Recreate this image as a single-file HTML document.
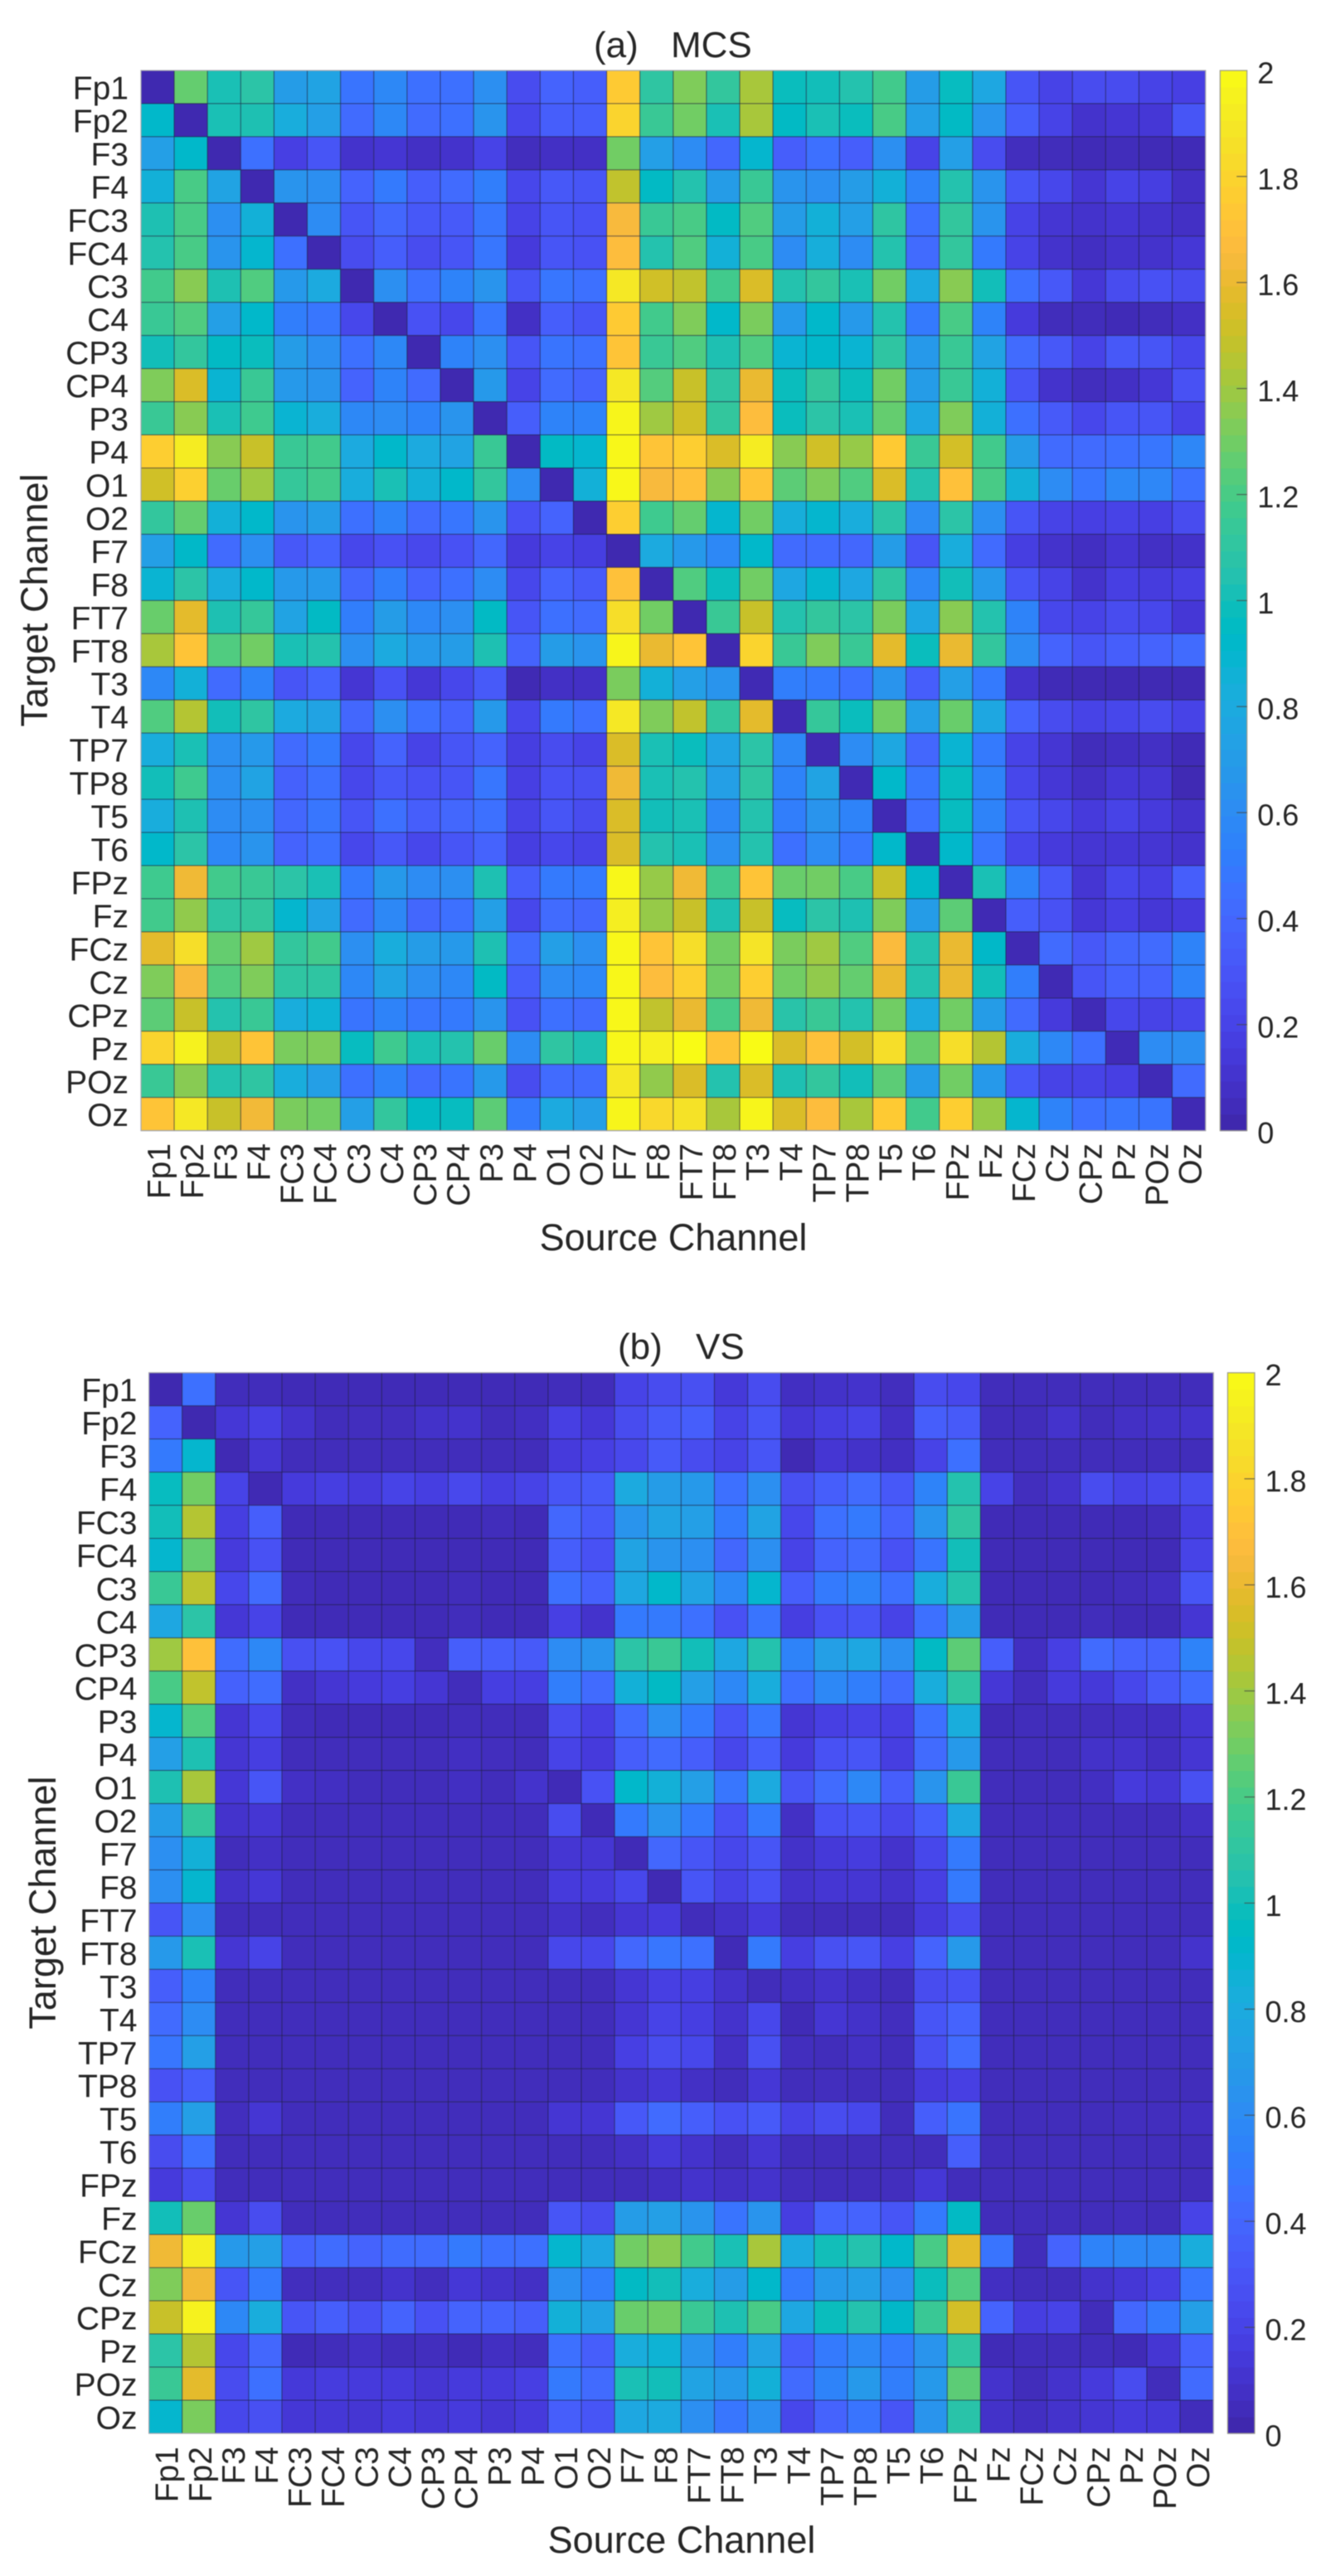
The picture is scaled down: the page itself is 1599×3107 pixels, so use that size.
<!DOCTYPE html>
<html lang="en">
<head>
<meta charset="utf-8">
<title>Connectivity matrices: MCS and VS</title>
<style>
  html,body{margin:0;padding:0;background:#fff;}
  svg{display:block;filter:blur(0.6px);}
  text{font-family:"Liberation Sans",Arial,sans-serif;fill:#262626;}
</style>
</head>
<body>
<svg id="figure" xmlns="http://www.w3.org/2000/svg" width="1599" height="3107" viewBox="0 0 1599 3107">
  <rect x="0" y="0" width="1599" height="3107" fill="#ffffff"/>
  <g id="panel-a">
    <text x="716" y="69" font-size="44">(a)</text>
    <text x="809" y="69" font-size="44">MCS</text>
    <text x="812" y="1508" font-size="45" text-anchor="middle">Source Channel</text>
    <text transform="translate(57 724) rotate(-90)" font-size="45" text-anchor="middle">Target Channel</text>
  </g>
  <g id="panel-b">
    <text x="745" y="1639" font-size="44">(b)</text>
    <text x="839" y="1639" font-size="44">VS</text>
    <text x="822" y="3079" font-size="45" text-anchor="middle">Source Channel</text>
    <text transform="translate(67 2295) rotate(-90)" font-size="45" text-anchor="middle">Target Channel</text>
  </g>
</svg>
<script>
const channels = ["Fp1","Fp2","F3","F4","FC3","FC4","C3","C4","CP3","CP4","P3","P4","O1","O2","F7","F8","FT7","FT8","T3","T4","TP7","TP8","T5","T6","FPz","Fz","FCz","Cz","CPz","Pz","POz","Oz"];
const colorbarTicks = [0,0.2,0.4,0.6,0.8,1,1.2,1.4,1.6,1.8,2];
const colorbarTickLabels = ["0","0.2","0.4","0.6","0.8","1","1.2","1.4","1.6","1.8","2"];

const mcsValues = [
[.02,1.27,1.02,1.08,.7,.75,.47,.58,.45,.45,.62,.25,.38,.35,1.75,1.1,1.33,1.12,1.42,.98,1.0,1.05,1.18,.7,.97,.78,.3,.2,.25,.25,.2,.18],
[.92,.02,1.02,1.03,.82,.72,.42,.58,.42,.45,.65,.22,.35,.35,1.8,1.15,1.3,1.02,1.42,.95,1.02,.98,1.2,.72,.95,.65,.35,.2,.1,.12,.13,.3],
[.72,.92,.02,.45,.18,.3,.1,.12,.08,.1,.2,.06,.08,.08,1.3,.72,.6,.4,.9,.35,.45,.35,.62,.2,.72,.25,.06,.05,.04,.05,.04,.04],
[.85,1.2,.75,.02,.65,.62,.38,.5,.35,.42,.52,.22,.32,.3,1.48,.95,1.05,.7,1.15,.65,.62,.7,.85,.55,1.05,.65,.3,.22,.12,.2,.17,.08],
[1.03,1.2,.62,.85,.02,.6,.3,.4,.32,.33,.48,.2,.3,.28,1.65,1.15,1.2,.95,1.22,.7,.85,.72,1.1,.45,1.12,.65,.2,.12,.1,.12,.1,.08],
[1.05,1.2,.65,.9,.45,.02,.25,.35,.25,.3,.48,.15,.3,.28,1.68,1.05,1.22,.85,1.2,.6,.83,.6,1.05,.42,1.12,.5,.2,.1,.07,.1,.1,.13],
[1.18,1.35,1.03,1.22,.68,.8,.02,.62,.45,.55,.65,.3,.48,.45,1.9,1.52,1.48,1.18,1.55,1.05,1.12,1.02,1.3,.8,1.35,1.0,.45,.32,.13,.25,.28,.25],
[1.15,1.22,.72,.92,.52,.48,.22,.02,.28,.22,.48,.08,.35,.3,1.75,1.18,1.33,.92,1.32,.68,.92,.68,1.05,.5,1.2,.55,.15,.05,.05,.04,.05,.08],
[1.0,1.12,.95,.98,.7,.62,.45,.58,.02,.55,.62,.3,.47,.45,1.72,1.15,1.22,1.03,1.22,.88,.92,.88,1.1,.68,1.15,.75,.42,.32,.2,.32,.3,.22],
[1.33,1.55,.88,1.15,.68,.65,.38,.55,.42,.02,.68,.2,.42,.38,1.9,1.23,1.5,1.1,1.6,.98,1.12,.98,1.3,.7,1.15,.85,.3,.1,.06,.08,.13,.28],
[1.15,1.35,1.02,1.17,.88,.82,.58,.6,.55,.65,.02,.35,.55,.55,1.97,1.4,1.52,1.12,1.68,.98,1.08,1.02,1.27,.78,1.33,.85,.45,.33,.22,.3,.3,.2],
[1.77,1.92,1.35,1.5,1.15,1.18,.8,.92,.8,.75,1.15,.02,.95,.9,1.98,1.72,1.77,1.55,1.92,1.35,1.52,1.38,1.75,1.15,1.53,1.18,.7,.42,.42,.45,.48,.57],
[1.52,1.78,1.28,1.4,1.13,1.18,.82,1.02,.85,.92,1.12,.6,.02,.85,1.98,1.65,1.7,1.35,1.72,1.25,1.33,1.22,1.55,1.05,1.7,1.2,.85,.6,.48,.58,.57,.45],
[1.12,1.27,.85,.92,.65,.7,.45,.55,.42,.48,.65,.28,.38,.02,1.77,1.17,1.27,.9,1.3,.83,.9,.82,1.08,.6,1.08,.62,.3,.2,.18,.2,.18,.25],
[.72,.93,.42,.62,.32,.38,.22,.28,.23,.28,.4,.15,.2,.17,.02,.8,.68,.58,.92,.42,.42,.4,.7,.3,.82,.42,.17,.1,.07,.12,.08,.09],
[.88,1.08,.82,.92,.68,.68,.4,.52,.38,.45,.6,.22,.38,.33,1.7,.02,1.22,.98,1.3,.78,.9,.78,1.1,.58,1.0,.68,.3,.2,.1,.18,.16,.18],
[1.28,1.58,1.03,1.13,.75,.95,.52,.7,.58,.62,.95,.3,.45,.42,1.85,1.3,.02,1.15,1.5,1.05,1.12,1.08,1.32,.78,1.35,1.05,.55,.22,.2,.25,.22,.13],
[1.42,1.72,1.22,1.3,1.02,1.05,.62,.8,.68,.7,1.03,.38,.7,.65,1.97,1.6,1.72,.02,1.8,1.15,1.33,1.15,1.58,.98,1.6,1.12,.6,.38,.3,.35,.38,.42],
[.58,.85,.42,.55,.3,.38,.12,.28,.13,.22,.33,.03,.08,.08,1.32,.85,.72,.65,.03,.52,.5,.45,.65,.35,.72,.5,.1,.04,.03,.03,.03,.03],
[1.22,1.45,1.0,1.1,.8,.75,.4,.62,.45,.38,.68,.22,.5,.45,1.9,1.33,1.48,1.12,1.58,.03,1.13,.98,1.3,.72,1.28,.78,.38,.25,.2,.22,.25,.2],
[.82,1.02,.62,.68,.42,.5,.22,.38,.2,.3,.38,.17,.25,.2,1.55,1.02,.98,.75,1.08,.58,.03,.6,.78,.4,.88,.5,.2,.12,.05,.07,.08,.04],
[1.0,1.17,.62,.75,.37,.45,.22,.32,.28,.3,.48,.18,.28,.27,1.62,1.02,1.05,.72,1.1,.55,.75,.03,.92,.48,.97,.55,.22,.13,.08,.13,.12,.03],
[.82,1.03,.6,.62,.4,.48,.3,.45,.35,.4,.45,.2,.3,.25,1.55,1.0,1.02,.58,1.05,.52,.65,.55,.03,.45,.97,.55,.3,.22,.15,.2,.15,.1],
[.92,1.08,.58,.65,.38,.45,.22,.32,.22,.3,.38,.17,.22,.2,1.55,1.05,1.02,.62,1.05,.45,.6,.48,.92,.03,.92,.48,.22,.15,.12,.13,.12,.1],
[1.17,1.62,1.18,1.15,1.08,1.02,.5,.68,.6,.62,1.03,.35,.5,.5,1.98,1.38,1.62,1.18,1.72,1.28,1.3,1.2,1.5,.93,.03,1.02,.55,.32,.12,.22,.18,.35],
[1.18,1.37,1.1,1.12,.9,.75,.42,.58,.4,.45,.72,.22,.42,.4,1.93,1.38,1.5,1.03,1.5,.97,1.08,1.03,1.33,.7,1.25,.03,.35,.28,.13,.18,.13,.15],
[1.58,1.85,1.27,1.4,1.12,1.18,.62,.82,.7,.68,1.03,.42,.72,.62,1.98,1.72,1.85,1.3,1.88,1.32,1.4,1.22,1.66,1.05,1.6,.93,.03,.42,.32,.4,.42,.55],
[1.33,1.65,1.23,1.33,1.1,1.1,.58,.75,.62,.58,.95,.35,.6,.58,1.98,1.68,1.78,1.3,1.77,1.3,1.37,1.27,1.6,1.05,1.6,1.0,.52,.03,.3,.38,.38,.55],
[1.25,1.5,1.05,1.15,.82,.87,.47,.55,.48,.5,.65,.28,.45,.42,1.98,1.48,1.6,1.2,1.62,1.07,1.15,1.05,1.3,.8,1.3,.7,.42,.15,.04,.22,.2,.22],
[1.8,1.95,1.5,1.72,1.32,1.33,.97,1.17,1.02,1.05,1.28,.6,1.1,1.03,1.98,1.94,2.0,1.72,2.0,1.55,1.7,1.53,1.85,1.28,1.85,1.45,.82,.58,.45,.04,.6,.62],
[1.15,1.35,1.05,1.1,.82,.72,.45,.55,.42,.47,.68,.25,.42,.42,1.9,1.37,1.55,1.05,1.55,1.03,1.12,1.0,1.25,.7,1.3,.68,.32,.2,.2,.18,.04,.42],
[1.72,1.9,1.5,1.63,1.32,1.3,.72,1.12,.95,.97,1.25,.5,.8,.72,1.97,1.82,1.87,1.42,1.97,1.55,1.68,1.42,1.75,1.18,1.77,1.38,.9,.55,.45,.48,.47,.03]
];

const vsValues = [
[.02,.45,.05,.05,.04,.04,.04,.04,.04,.04,.04,.04,.05,.05,.2,.25,.27,.14,.25,.07,.09,.1,.06,.25,.22,.05,.05,.05,.05,.05,.05,.05],
[.38,.02,.13,.18,.1,.05,.06,.06,.09,.1,.05,.07,.18,.13,.25,.33,.35,.2,.3,.13,.17,.2,.08,.35,.33,.05,.05,.1,.05,.08,.09,.1],
[.5,.9,.03,.12,.05,.05,.05,.05,.05,.05,.05,.05,.15,.18,.23,.33,.25,.2,.3,.03,.12,.09,.07,.2,.45,.05,.05,.05,.05,.05,.05,.05],
[.97,1.3,.2,.03,.15,.17,.15,.2,.17,.23,.17,.2,.3,.33,.8,.7,.68,.45,.62,.27,.35,.42,.32,.55,1.05,.2,.06,.1,.25,.2,.22,.25],
[1.0,1.45,.17,.35,.04,.04,.04,.04,.04,.04,.05,.04,.4,.33,.65,.75,.72,.5,.75,.22,.45,.5,.38,.65,1.1,.04,.04,.04,.04,.04,.05,.17],
[.9,1.27,.15,.28,.04,.04,.04,.04,.04,.04,.04,.04,.35,.28,.75,.65,.62,.4,.62,.2,.38,.42,.28,.47,1.0,.04,.04,.04,.04,.04,.04,.2],
[1.15,1.47,.22,.42,.05,.04,.04,.04,.04,.05,.04,.04,.45,.37,.78,.92,.75,.58,.9,.35,.5,.55,.45,.82,1.05,.04,.04,.04,.04,.05,.07,.3],
[.78,1.08,.13,.2,.04,.04,.04,.04,.04,.05,.04,.04,.18,.1,.5,.5,.45,.28,.47,.17,.28,.3,.2,.45,.7,.04,.04,.04,.05,.04,.04,.12],
[1.4,1.7,.43,.58,.27,.28,.22,.22,.06,.35,.35,.33,.6,.65,1.08,1.15,1.0,.78,1.05,.55,.72,.78,.62,.95,1.25,.35,.07,.18,.42,.38,.38,.55],
[1.2,1.48,.37,.43,.08,.12,.15,.17,.12,.05,.17,.17,.52,.42,.85,.95,.72,.58,.82,.45,.58,.52,.42,.82,1.1,.13,.06,.15,.14,.22,.33,.42],
[.9,1.22,.12,.22,.05,.04,.04,.04,.04,.05,.05,.05,.25,.18,.42,.62,.5,.3,.48,.12,.18,.2,.18,.45,.82,.04,.05,.05,.06,.07,.07,.12],
[.72,1.03,.12,.17,.05,.05,.05,.05,.05,.07,.06,.05,.2,.15,.35,.42,.35,.22,.35,.15,.28,.3,.17,.42,.68,.05,.05,.05,.09,.1,.07,.12],
[1.03,1.42,.13,.3,.08,.07,.05,.05,.05,.07,.05,.1,.04,.28,.92,.85,.72,.48,.8,.3,.42,.58,.35,.65,1.15,.05,.05,.05,.07,.15,.13,.27],
[.7,1.12,.1,.12,.05,.05,.05,.05,.05,.05,.05,.05,.25,.04,.5,.65,.5,.28,.5,.08,.28,.3,.23,.35,.78,.05,.05,.05,.05,.05,.05,.08],
[.62,.85,.05,.08,.05,.05,.05,.05,.05,.05,.05,.05,.12,.12,.04,.4,.3,.22,.3,.09,.14,.16,.1,.22,.5,.05,.05,.05,.05,.05,.05,.05],
[.62,.9,.09,.13,.05,.05,.05,.05,.05,.05,.05,.05,.15,.15,.22,.03,.3,.2,.28,.1,.12,.12,.1,.18,.5,.05,.05,.05,.05,.05,.05,.05],
[.3,.62,.05,.05,.05,.05,.05,.05,.05,.05,.05,.05,.09,.06,.12,.15,.05,.09,.15,.05,.05,.05,.05,.15,.25,.05,.05,.05,.05,.05,.05,.05],
[.68,1.02,.12,.2,.05,.05,.05,.05,.05,.05,.05,.05,.22,.22,.4,.48,.45,.04,.5,.17,.27,.3,.18,.38,.68,.05,.05,.05,.05,.05,.05,.1],
[.35,.55,.05,.05,.05,.05,.05,.05,.05,.05,.05,.05,.05,.05,.12,.18,.17,.1,.05,.07,.1,.07,.05,.25,.28,.05,.05,.05,.05,.05,.05,.05],
[.42,.6,.05,.05,.05,.05,.05,.05,.05,.05,.05,.05,.05,.05,.12,.2,.17,.1,.22,.04,.12,.09,.06,.3,.38,.05,.05,.05,.05,.05,.05,.05],
[.48,.72,.05,.05,.05,.05,.05,.05,.05,.05,.05,.05,.05,.05,.18,.25,.22,.08,.27,.06,.05,.08,.05,.27,.42,.05,.05,.05,.05,.05,.05,.05],
[.28,.35,.05,.05,.05,.05,.05,.05,.05,.05,.05,.05,.05,.05,.1,.13,.08,.05,.13,.05,.06,.05,.05,.15,.18,.05,.05,.05,.05,.05,.05,.05],
[.52,.72,.06,.12,.05,.05,.05,.05,.05,.05,.05,.05,.12,.12,.32,.42,.35,.28,.33,.2,.25,.22,.05,.35,.47,.05,.05,.05,.05,.06,.06,.07],
[.25,.45,.05,.05,.05,.05,.05,.05,.05,.05,.05,.05,.05,.05,.08,.14,.1,.06,.12,.05,.05,.05,.05,.05,.35,.05,.05,.05,.05,.05,.05,.05],
[.15,.25,.05,.05,.05,.05,.05,.05,.05,.05,.05,.05,.05,.05,.05,.07,.1,.08,.1,.06,.05,.05,.06,.13,.05,.05,.05,.05,.05,.05,.05,.05],
[1.0,1.28,.12,.25,.05,.05,.05,.05,.05,.05,.05,.05,.3,.25,.7,.72,.65,.47,.65,.17,.38,.38,.3,.5,.95,.05,.05,.05,.05,.06,.05,.2],
[1.62,1.93,.68,.72,.38,.43,.38,.43,.43,.5,.45,.45,.9,.78,1.3,1.35,1.18,1.02,1.42,.8,1.0,1.05,.92,1.2,1.58,.47,.05,.38,.55,.58,.58,.82],
[1.33,1.63,.3,.5,.06,.06,.06,.1,.06,.13,.1,.08,.62,.52,.95,1.0,.82,.7,.92,.5,.68,.72,.62,.98,1.22,.07,.05,.05,.1,.13,.18,.48],
[1.5,1.95,.58,.82,.3,.35,.28,.38,.28,.38,.38,.35,.85,.75,1.28,1.3,1.15,1.03,1.2,.78,.98,1.05,.93,1.15,1.53,.38,.17,.2,.05,.4,.5,.72],
[1.08,1.45,.22,.4,.04,.05,.08,.05,.06,.04,.07,.06,.45,.35,.82,.87,.65,.52,.75,.35,.5,.58,.5,.65,1.1,.04,.05,.05,.05,.04,.12,.38],
[1.15,1.58,.25,.45,.14,.16,.15,.15,.12,.15,.15,.18,.5,.42,1.02,1.0,.75,.68,.85,.42,.55,.68,.52,.68,1.25,.1,.05,.1,.15,.25,.05,.42],
[.9,1.32,.22,.27,.13,.13,.12,.15,.13,.15,.12,.15,.35,.3,.78,.8,.62,.48,.62,.22,.38,.47,.3,.65,1.07,.09,.07,.1,.12,.15,.14,.05]
];

const parula = [[.2422,.1504,.6603],[.2504,.165,.7076],[.2578,.1818,.7511],[.2647,.1978,.7952],[.2706,.2147,.8364],[.2751,.2342,.871],[.2783,.2559,.8991],[.2803,.2782,.9221],[.2813,.3006,.9414],[.281,.3228,.9579],[.2795,.3447,.9717],[.276,.3667,.9829],[.2699,.3892,.9906],[.2602,.4123,.9952],[.244,.4358,.9988],[.2206,.4603,.9973],[.1963,.4847,.9892],[.1834,.5074,.9798],[.1786,.5289,.9682],[.1764,.5499,.952],[.1687,.5703,.9359],[.154,.5902,.9218],[.146,.6091,.9079],[.138,.6276,.8973],[.1248,.6459,.8883],[.1113,.6635,.8763],[.0952,.6798,.8598],[.0689,.6948,.8394],[.0297,.7082,.8163],[.0036,.7203,.7917],[.0067,.7312,.766],[.0433,.7411,.7394],[.0964,.75,.712],[.1408,.7584,.6842],[.1717,.767,.6554],[.1938,.7758,.6251],[.2161,.7843,.5923],[.247,.7918,.5567],[.2906,.7973,.5188],[.3406,.8008,.4789],[.3909,.8029,.4354],[.4456,.8024,.3909],[.5044,.7993,.348],[.5616,.7942,.3045],[.6174,.7876,.2612],[.672,.7793,.2227],[.7242,.7698,.191],[.7738,.7598,.1646],[.8203,.7498,.1535],[.8634,.7406,.1596],[.9035,.733,.1774],[.9393,.7288,.21],[.9728,.7298,.2394],[.9956,.7434,.2371],[.997,.7659,.2199],[.9952,.7893,.2028],[.9892,.8136,.1885],[.9786,.8386,.1766],[.9676,.8639,.1643],[.961,.889,.1537],[.9597,.9135,.1423],[.9628,.9373,.1265],[.9691,.9606,.1064],[.9769,.9839,.0805]];

const SVG_NS = "http://www.w3.org/2000/svg";
const VALUE_MAX = 2;

function colorScale(v) {
  const t = Math.max(0, Math.min(1, v / VALUE_MAX)) * (parula.length - 1);
  const i = Math.min(parula.length - 2, Math.floor(t));
  const f = t - i;
  const c = parula[i].map((a, k) => Math.round(255 * (a + (parula[i + 1][k] - a) * f)));
  return "rgb(" + c.join(",") + ")";
}

function make(tag, attrs, parent) {
  const el = document.createElementNS(SVG_NS, tag);
  for (const k in attrs) el.setAttribute(k, attrs[k]);
  parent.appendChild(el);
  return el;
}

function drawPanel(parentId, prefix, values, box) {
  const parent = document.getElementById(parentId);
  const n = channels.length;
  const cw = (box.right - box.left) / n;
  const ch = (box.bottom - box.top) / n;
  const xScale = i => box.left + i * cw;
  const yScale = i => box.top + i * ch;
  const barY = v => box.bottom - (v / VALUE_MAX) * (box.bottom - box.top);

  const cells = make("g", {}, parent);
  
  
  values.forEach((row, r) => {
    row.forEach((v, c) => {
      const cell = make("rect", {x: xScale(c), y: yScale(r), width: cw, height: ch, fill: colorScale(v), stroke: "#1a1a3a", "stroke-opacity": 0.5, "stroke-width": 1}, cells);
      
      
    });
  });

  const frame = make("rect", {x: box.left, y: box.top, width: box.right - box.left, height: box.bottom - box.top, fill: "none", stroke: "#a8a8b0", "stroke-width": 1.2}, parent);
  
  

  channels.forEach((name, i) => {
    const yl = make("text", {x: box.yLabelX, y: yScale(i) + ch / 2 + 14.5, "font-size": 39, "text-anchor": "end"}, parent);
    yl.textContent = name;
    
    
    const xl = make("text", {transform: "translate(" + (xScale(i) + cw / 2 + 15) + " " + box.xLabelY + ") rotate(-90)", "font-size": 39, "text-anchor": "end"}, parent);
    xl.textContent = name;
    
    
  });

  const bar = make("g", {}, parent);
  
  
  const steps = parula.length;
  for (let s = 0; s < steps; s++) {
    const vLow = VALUE_MAX * s / steps;
    const vHigh = VALUE_MAX * (s + 1) / steps;
    const seg = make("rect", {x: box.barLeft, y: barY(vHigh), width: box.barRight - box.barLeft, height: barY(vLow) - barY(vHigh) + 0.6, fill: colorScale((vLow + vHigh) / 2)}, bar);
    
    
  }
  const barFrame = make("rect", {x: box.barLeft, y: box.top, width: box.barRight - box.barLeft, height: box.bottom - box.top, fill: "none", stroke: "#9a9a8a", "stroke-width": 1.2}, bar);
  
  
  colorbarTicks.forEach((v, i) => {
    const y = barY(v);
    if (v > 0 && v < VALUE_MAX) {
      const tick = make("line", {x1: box.barRight - 12.5, x2: box.barRight, y1: y, y2: y, stroke: "#444", "stroke-opacity": 0.75, "stroke-width": 1.2}, bar);
      
      
    }
    const label = make("text", {x: box.barRight + 12.5, y: y + 15.5, "font-size": 36}, bar);
    label.textContent = colorbarTickLabels[i];
    
    
  });
}

drawPanel("panel-a", "mcs", mcsValues, {left: 170, right: 1453.7, top: 85, bottom: 1363.7, yLabelX: 155, xLabelY: 1379, barLeft: 1471.3, barRight: 1503.7});
drawPanel("panel-b", "vs", vsValues, {left: 179.6, right: 1463.2, top: 1655.7, bottom: 2935, yLabelX: 165.5, xLabelY: 2951, barLeft: 1480.4, barRight: 1513});
</script>
</body>
</html>
